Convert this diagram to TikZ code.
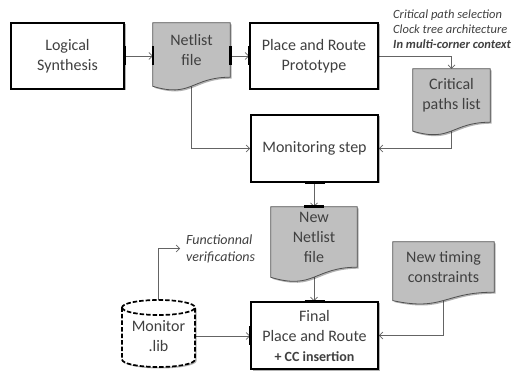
\documentclass[tikz,border=0pt]{standalone}
\usepackage{fontspec}
\setmainfont{Carlito}
\usetikzlibrary{arrows.meta,shadows,backgrounds,calc}

\definecolor{txtgray}{RGB}{64,64,64}
\definecolor{docgray}{RGB}{191,191,191}
\definecolor{docline}{RGB}{80,80,80}
\definecolor{linegray}{RGB}{100,100,100}

\begin{document}
\begin{tikzpicture}[x=1pt,y=-1pt,
  every node/.style={text=txtgray,align=center,inner sep=0pt},
  shade/.style={drop shadow={shadow xshift=1.5pt,shadow yshift=-1.5pt,opacity=0.3,fill=black}},
  box/.style={draw=black,line width=1.8pt,fill=white,shade,font=\fontsize{16}{20}\selectfont},
  doc/.style={font=\fontsize{16}{20}\selectfont},
  docshape/.style={draw=docline,line width=0.8pt,fill=docgray,shade},
  libline/.style={line width=1.7pt,dash pattern=on 4.5pt off 2pt},
  conn/.style={draw=linegray,line width=0.7pt,-{Straight Barb[length=3.5pt,width=7pt]}},
  port/.style={line width=2.6pt,black},
  note/.style={align=left,font=\fontsize{12.5}{15}\selectfont\itshape}]
\useasboundingbox (0,0) rectangle (514,371);

% boxes
\node[box,minimum width=113,minimum height=66] (ls) at (67.5,56) {Logical\\Synthesis};
\node[box,minimum width=128,minimum height=66] (pr) at (314,56) {Place and Route\\Prototype};
\node[box,minimum width=127,minimum height=67] (ms) at (314.5,148.5) {Monitoring step};
\node[box,minimum width=127,minimum height=67] (fi) at (314.5,335.5)
  {Final\\Place and Route\\{\fontsize{14}{17}\selectfont\bfseries + CC insertion}};

% files
\node[doc,minimum width=77,minimum height=54] (nl) at (191.5,50) {Netlist\\file};
\node[doc,minimum width=77,minimum height=53] (cp) at (451.5,95.5) {Critical\\paths list};
\node[doc,minimum width=86,minimum height=60] (nn) at (314,237) {New\\Netlist\\file};
\node[doc,minimum width=101,minimum height=50] (tc) at (443.5,267) {New timing\\constraints};

% library
\draw[libline,fill=white,shade] (122,307.5) -- (122,359.5)
  arc[start angle=180,end angle=0,x radius=36.5,y radius=7.5] -- (195,307.5)
  arc[start angle=0,end angle=-180,x radius=36.5,y radius=7.5] -- cycle;
\draw[libline] (122,307.5) arc[start angle=180,end angle=0,x radius=36.5,y radius=7.5];
\node[doc,minimum width=73,minimum height=72] (ml) at (158.5,336) {Monitor\\.lib};

% notes
\node[note,anchor=west] (cc) at (393,29.5)
  {Critical path selection\\Clock tree architecture\\\textbf{In multi-corner context}};
\node[note,anchor=west,inner xsep=6pt,font=\fontsize{14}{17}\selectfont\itshape] (fv) at (180,248.5)
  {Functionnal\\verifications};

\begin{scope}[on background layer]
% connectors
\draw[conn] (ls.east) -- (ls.east -| nl.west);
\draw[conn] (pr.west -| nl.east) -- (pr.west);
\draw[conn] (pr.east) -| (cp.north);
\draw[conn] (nl.south) |- (ms.west);
\draw[conn] (cp.south) |- (ms.east);
\draw[conn] (ms.south -| nn.north) -- (nn.north);
\draw[conn] (nn.south) -- (nn.south |- fi.north);
\draw[conn] (tc.south) |- (fi.east);
\draw[conn] (ml.east) -- (ml.east -| fi.west);
\draw[conn] (ml.north) |- (fv.west);
% file outlines
\foreach \d in {nl,cp,nn,tc}
  \draw[docshape] (\d.north west) -- (\d.north east) -- (\d.south east)
    .. controls (\d.south) and ($(\d.north)!1.384!(\d.south)$)
    .. ($(\d.north west)!1.1675!(\d.south west)$) -- cycle;
\end{scope}

% connection points
\foreach \p in {ls.east,pr.west,fi.west}
  \draw[port] ([yshift=9.5pt]\p) -- ([yshift=-9.5pt]\p);
\draw[port] ([yshift=9.5pt]ls.east -| nl.west) -- ([yshift=-9.5pt]ls.east -| nl.west);
\draw[port] ([yshift=9.5pt]pr.west -| nl.east) -- ([yshift=-9.5pt]pr.west -| nl.east);
\foreach \p in {ms.south,nn.north,fi.north}
  \draw[port] ([xshift=-10pt]\p) -- ([xshift=10pt]\p);
\end{tikzpicture}
\end{document}
